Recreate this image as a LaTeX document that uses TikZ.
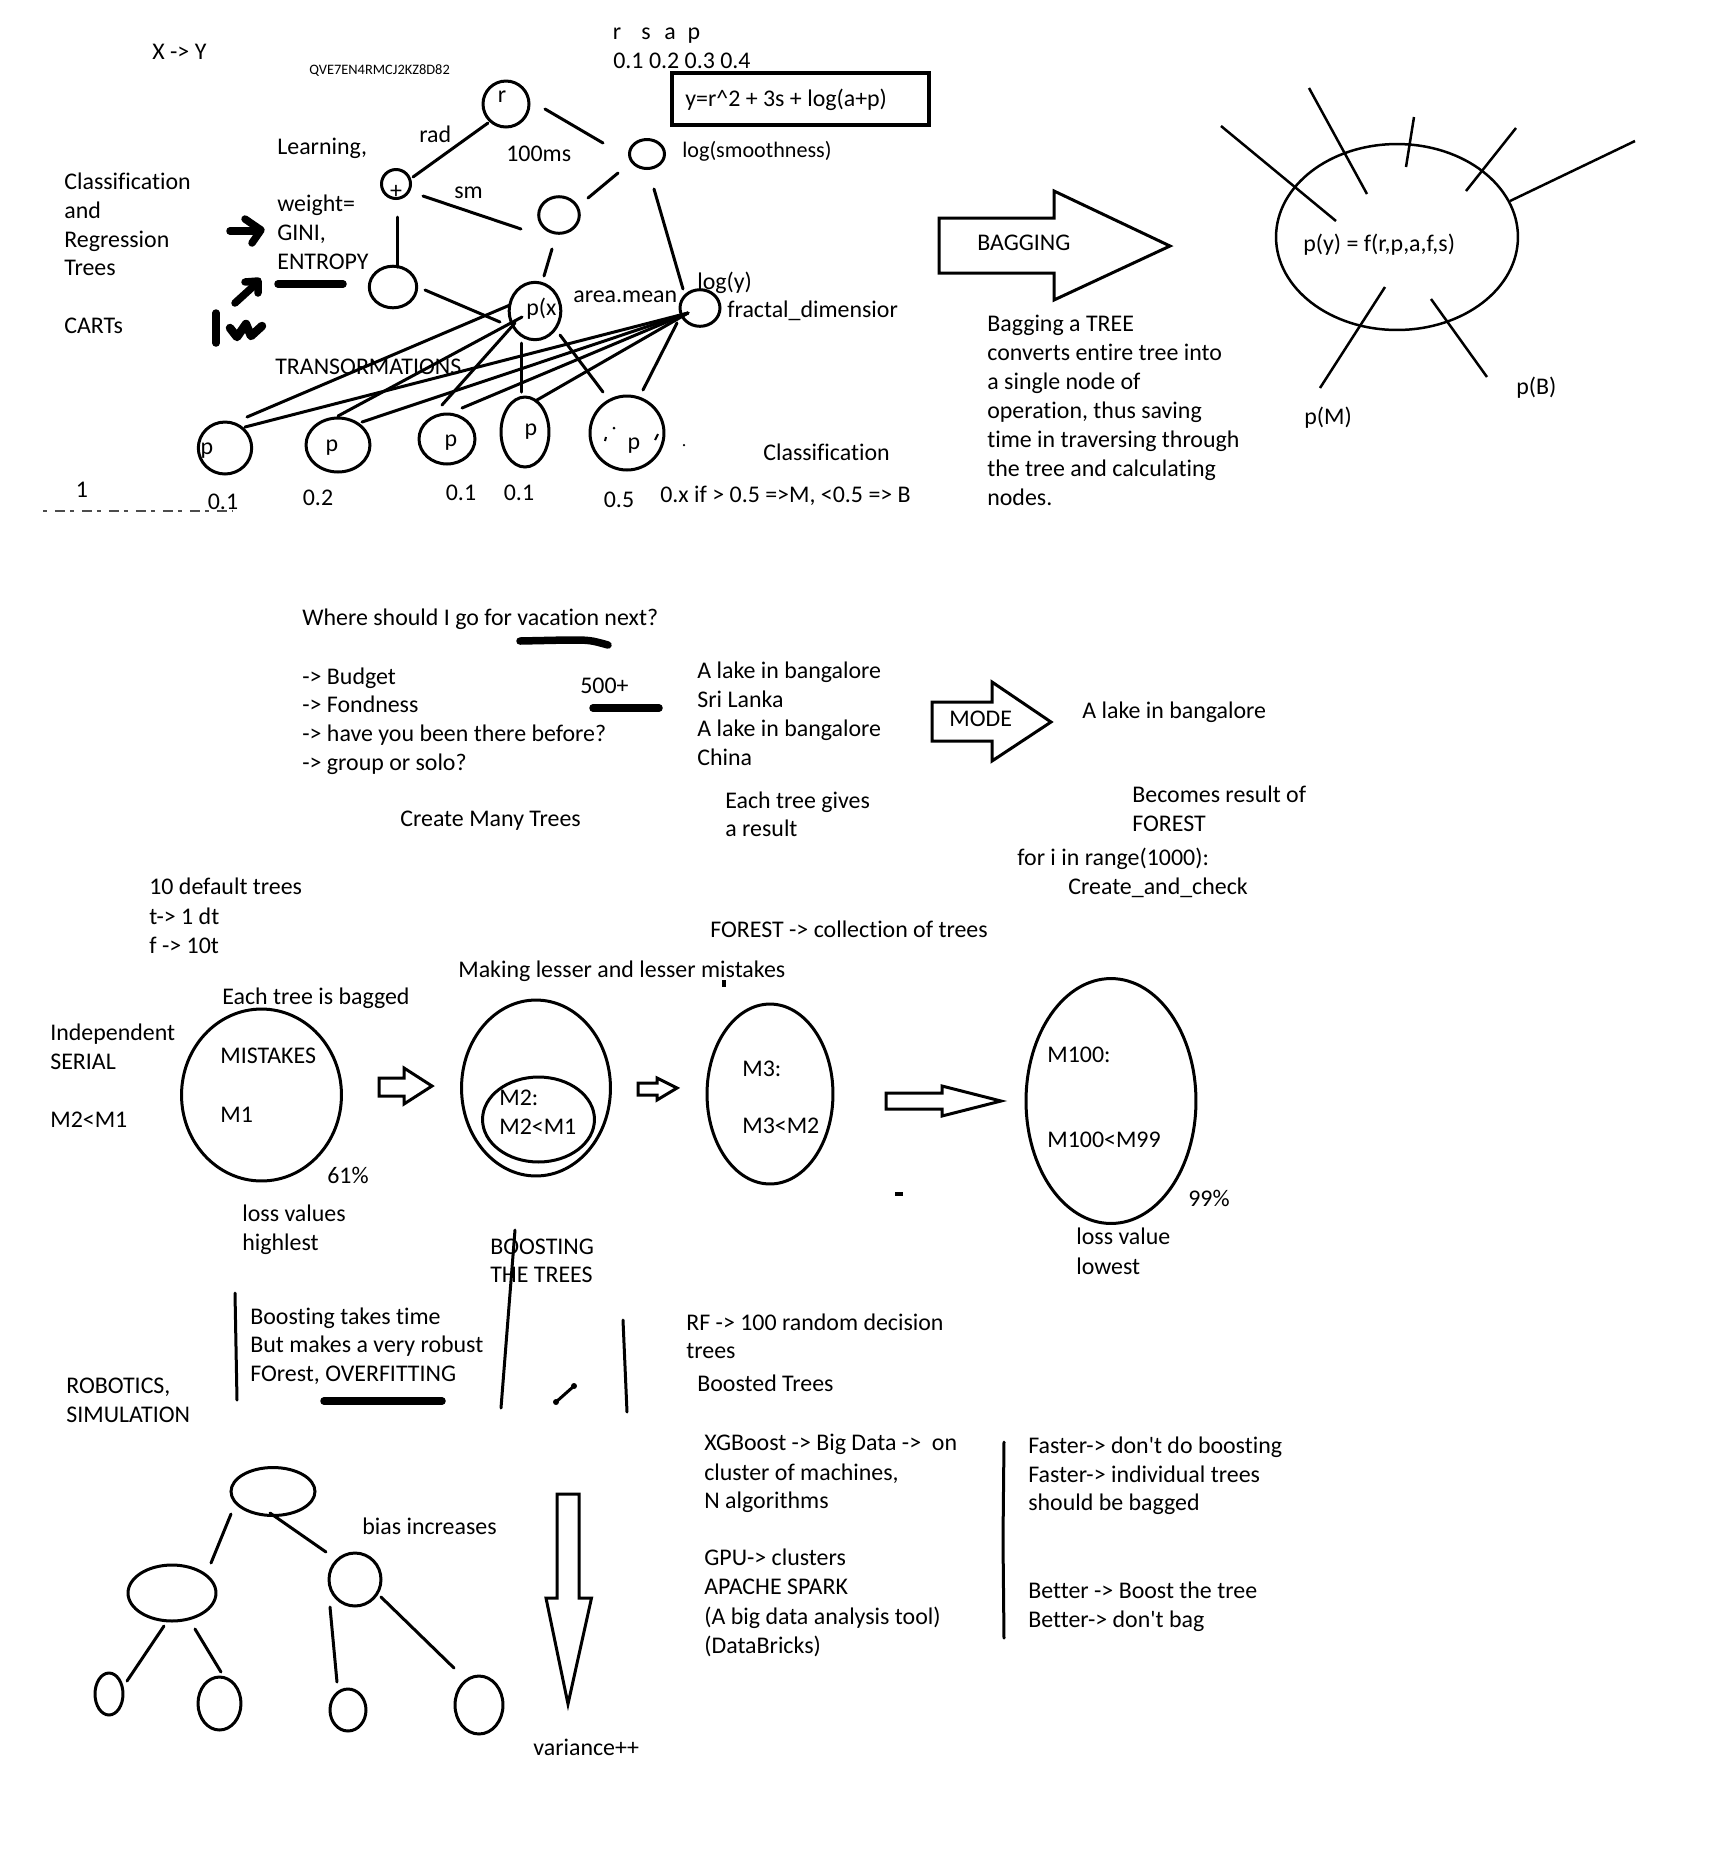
\documentclass[tikz,border=0pt]{standalone}
\usepackage{fontspec}
\setmainfont[Ligatures=NoCommon]{Carlito}
\usetikzlibrary{shapes.geometric,calc}
\newcommand\myfs{\fontsize{13.6pt}{16.5pt}\selectfont}
\newcommand\mysmall{\fontsize{8.2pt}{10pt}\selectfont}
\begin{document}
\begin{tikzpicture}[x=0.02cm, y=-0.02cm,
  txt/.style={font=\myfs, inner sep=0pt, anchor=base west, yshift=-0.15cm},
  ctxt/.style={font=\myfs, inner sep=0pt, anchor=base, yshift=-0.15cm},
  lbl/.style={font=\myfs, inner sep=0pt, anchor=base},
  txts/.style={font=\mysmall, inner sep=0pt, anchor=base west, yshift=-0.1cm},
  ln/.style={line width=0.06cm, line cap=round},
  thk/.style={line width=0.15cm, line cap=round, line join=round},
  ell/.style 2 args={draw, ellipse, line width=0.06cm, inner sep=0pt, minimum width=#1*0.04cm, minimum height=#2*0.04cm},
]
\path[use as bounding box, fill=white] (0,0) rectangle (1712,1854);

% ================= TOP LEFT TREE =================
\node[txt] (tXY) at (152,52) {X -> Y};
\node[txts] (tQ) at (309,69) {QVE7EN4RMCJ2KZ8D82};
\node[lbl] (lr) at (617,39) {r};
\node[lbl] (ls) at (646,39) {s};
\node[lbl] (la) at (670,39) {a};
\node[lbl] (lp) at (694,39) {p};
\node[txt] (tnum) at (613,61) {0.1 0.2 0.3 0.4};
\node[draw, line width=0.07cm, minimum width=257*0.02cm, minimum height=52*0.02cm, inner sep=0pt, anchor=north west] (box) at (670,71) {};
\node[txt] (tbox) at (685,99) {y=r\textasciicircum 2 + 3s + log(a+p)};

\node[txt] (tlearn) at (277,147) {Learning,};
\node[txt] (trad) at (419,135) {rad};
\node[txt] (t100) at (506,154) {100ms};
\node[txt, font=\fontsize{12.6pt}{15pt}\selectfont] (tlogs) at (682,150) {log(smoothness)};
\node[txt] (tsm) at (454,191) {sm};
\node[txt] (tc1) at (64,182) {Classification};
\node[txt] (tc2) at (64,211) {and};
\node[txt] (tc3) at (64,240) {Regression};
\node[txt] (tc4) at (64,268) {Trees};
\node[txt] (tc5) at (64,326) {CARTs};
\node[txt] (tw1) at (277,204) {weight=};
\node[txt] (tw2) at (277,233) {GINI,};
\node[txt] (tw3) at (277,262) {ENTROPY};
\node[txt] (ttr) at (275,367) {TRANSORMATIONS};
\node[txt] (tarea) at (573,295) {area.mean};
\node[txt] (tlogy) at (697,282) {log(y)};
\node[txt] (tfrac) at (727,310) {fractal\_dimensior};
\node[txt] (tpx) at (526,308) {p(x};
\node[txt] (tcls) at (763,453) {Classification};
\node[txt] (tox) at (660,495) {0.x if > 0.5 =>M, <0.5 => B};

% circles
\node[ell={23}{23}] (r) at (506,104) {};
\node[lbl] (rl) at (502,102) {r};
\node[ell={14.5}{14.5}] (plus) at (396,184) {};
\node[lbl] (plusl) at (396,198) {+};
\node[ell={23.7}{20.8}] (m1) at (393,287) {};
\node[ell={17.5}{14.5}] (lsm) at (647,154) {};
\node[ell={20.3}{18.3}] (mid2) at (559,215) {};
\node[ell={25.8}{28.7}] (px) at (535,311) {};
\node[ell={20}{18.3}] (ly) at (700,308) {};
\node[ell={26.7}{26}] (p1) at (225,448) {};
\node[ell={32}{27}] (p2) at (338,445) {};
\node[ell={28}{25}] (p3) at (447,439) {};
\node[ell={24}{35}] (p4) at (525,432) {};
\node[ell={37}{37}] (p5) at (627,433) {};
\node[lbl] (p1l) at (207,454) {p};
\node[lbl] (p2l) at (332,451) {p};
\node[lbl] (p3l) at (451,446) {p};
\node[lbl] (p4l) at (531,435) {p};
\node[lbl] (p5l) at (634,449) {p};
\fill (614,428) circle (0.03cm);
\draw[line width=0.04cm] (606,437) -- (605,441);
\draw[line width=0.04cm] (658,434) -- (655,440);
\fill (684,445) circle (0.025cm);

\node[ctxt] (n1) at (82,490) {1};
\node[ctxt] (n2) at (223,502) {0.1};
\node[ctxt] (n3) at (318,498) {0.2};
\node[ctxt] (n4) at (461,493) {0.1};
\node[ctxt] (n5) at (519,493) {0.1};
\node[ctxt] (n6) at (619,500) {0.5};
\draw[line width=0.03cm, black!70, dash pattern=on 0.08cm off 0.16cm on 0.2cm off 0.1cm] (43,511) -- (232,511);

% connectors
\draw[ln] ($(plus)+(17,-7)$) -- ($(r)+(-18,19)$);
\draw[ln] ($(r)+(39,5)$) -- ($(lsm)+(-44,-11)$);
\draw[ln] ($(plus)+(27,12)$) -- ($(mid2)+(-38,14)$);
\draw[ln] ($(lsm)+(-29,19)$) -- ($(mid2)+(29,-17)$);
\draw[ln] ($(lsm)+(7,35)$) -- ($(ly)+(-17,-19)$);
\draw[ln] ($(plus)+(1,33)$) -- ($(m1)+(4,-20)$);
\draw[ln] ($(m1)+(32,3)$) -- ($(px)+(-35,11)$);
\draw[ln] ($(mid2)+(-7,34)$) -- ($(px)+(9,-35)$);
\draw[ln] ($(p1)+(22,-31)$) -- ($(px)+(-25,-6)$);
\draw[ln] ($(p2)+(0,-29)$) -- ($(px)+(-13,6)$);
\draw[ln] ($(p3)+(-5,-34)$) -- ($(px)+(-20,12)$);
\draw[ln] ($(px)+(-14,32)$) -- ($(p4)+(-4,-40)$);
\draw[ln] ($(px)+(25,24)$) -- ($(p5)+(-24,-41)$);
\coordinate (fan) at ($(ly)+(-12,5)$);
\draw[ln] ($(p1)+(20,-21)$) -- (fan);
\draw[ln] ($(p2)+(24,-23)$) -- (fan);
\draw[ln] ($(p3)+(15,-31)$) -- (fan);
\draw[ln] ($(p4)+(12,-32)$) -- (fan);
\draw[ln] ($(p5)+(16,-43)$) -- ($(ly)+(-23,15)$);

% thick marker strokes
\draw[thk] (278,284) -- (343,284);
\draw[thk] (230,231) -- (258,231);
\draw[thk] (245,219) -- (261,230) -- (252,243);
\draw[thk] (235,303) -- (257,283);
\draw[thk] (245,282) -- (258,281) -- (258,293);
\draw[thk] (216,313) -- (216,343);
\draw[thk, line width=0.17cm] (230,328) -- (237,337) -- (246,324) -- (251,336) -- (262,326);

% ================= BAGGING =================
\draw[ln, line join=miter] (939,218) -- (1054,218) -- (1054,191) -- (1170,246) -- (1054,300) -- (1054,273) -- (939,273) -- cycle;
\node[txt] (tbag) at (977,243) {BAGGING};
\node[txt] (b1) at (987,324) {Bagging a TREE};
\node[txt] (b2) at (987,353) {converts entire tree into};
\node[txt] (b3) at (987,382) {a single node of};
\node[txt] (b4) at (987,411) {operation, thus saving};
\node[txt] (b5) at (987,440) {time in traversing through};
\node[txt] (b6) at (987,469) {the tree and calculating};
\node[txt] (b7) at (987,498) {nodes.};

\node[ell={121}{93}, line width=0.05cm] (E) at (1397,237) {};
\node[txt] (tpy) at (1303,244) {p(y) = f(r,p,a,f,s)};
\draw[line width=0.05cm] ($(E)+(-176,-111)$) -- ($(E)+(-61,-16)$);
\draw[line width=0.05cm] ($(E)+(-88,-149)$) -- ($(E)+(-30,-43)$);
\draw[line width=0.05cm] ($(E)+(17,-120)$) -- ($(E)+(9,-70)$);
\draw[line width=0.05cm] ($(E)+(119,-109)$) -- ($(E)+(69,-46)$);
\draw[line width=0.05cm] ($(E)+(238,-96)$) -- ($(E)+(113,-36)$);
\draw[line width=0.05cm] ($(E)+(-12,50)$) -- ($(E)+(-77,151)$);
\draw[line width=0.05cm] ($(E)+(34,62)$) -- ($(E)+(90,140)$);
\node[txt] (tpB) at (1516,387) {p(B)};
\node[txt] (tpM) at (1304,417) {p(M)};

% ================= MIDDLE =================
\node[txt] (v0) at (302,618) {Where should I go for vacation next?};
\draw[thk] (520,641) -- (567,640) .. controls (590,640) .. (608,645);
\node[txt] (v1) at (302,677) {-> Budget};
\node[txt] (v2) at (302,705) {-> Fondness};
\node[txt] (v3) at (302,734) {-> have you been there before?};
\node[txt] (v4) at (302,763) {-> group or solo?};
\node[txt] (v500) at (580,686) {500+};
\draw[thk] (593,708) -- (659,708);
\node[txt] (a1) at (697,671) {A lake in bangalore};
\node[txt] (a2) at (697,700) {Sri Lanka};
\node[txt] (a3) at (697,729) {A lake in bangalore};
\node[txt] (a4) at (697,758) {China};
\node[txt] (tcmt) at (400,819) {Create Many Trees};
\node[txt] (te1) at (725,801) {Each tree gives};
\node[txt] (te2) at (725,829) {a result};
\draw[ln, line join=miter] (932,702) -- (992,702) -- (992,682) -- (1051,722) -- (992,761) -- (992,741) -- (932,741) -- cycle;
\node[txt] (tmode) at (949,719) {MODE};
\node[txt] (tlake) at (1082,711) {A lake in bangalore};
\node[txt] (tb1) at (1132,795) {Becomes result of};
\node[txt] (tb2) at (1132,824) {FOREST};
\node[txt] (tfor) at (1017,858) {for i in range(1000):};
\node[txt] (tcac) at (1068,887) {Create\_and\_check};
\node[txt] (tforest) at (710,930) {FOREST -> collection of trees};

% ================= BOOSTING =================
\node[txt] (d1) at (149,887) {10 default trees};
\node[txt] (d2) at (149,917) {t-> 1 dt};
\node[txt] (d3) at (149,946) {f -> 10t};
\node[txt] (tmk) at (458,970) {Making lesser and lesser mistakes};
\draw[line width=0.07cm] (724,980) -- (724,987);
\node[txt] (teb) at (222,997) {Each tree is bagged};
\node[txt] (ti1) at (50,1033) {Independent};
\node[txt] (ti2) at (50,1062) {SERIAL};
\node[txt] (ti3) at (50,1120) {M2<M1};

\node[ell={80}{86}] (E1) at (261.5,1095) {};
\node[txt] (tmist) at (220,1056) {MISTAKES};
\node[txt] (tm1) at (220,1115) {M1};
\node[txt] (t61) at (327,1176) {61\%};
\node[txt] (tlv1) at (242,1214) {loss values};
\node[txt] (tlv2) at (242,1243) {highlest};
\draw[ln, line join=miter] (379,1078) -- (404,1078) -- (404,1068) -- (432,1086) -- (404,1104) -- (404,1096) -- (379,1096) -- cycle;

\node[ell={74.5}{88}] (E2) at (536,1088) {};
\node[ell={56}{42.5}] (E2i) at (538.5,1119.5) {};
\node[txt] (tm2a) at (499,1098) {M2:};
\node[txt] (tm2b) at (499,1127) {M2<M1};
\draw[ln, line join=miter] (638,1083) -- (657,1083) -- (657,1078) -- (677,1088) -- (657,1100) -- (657,1095) -- (638,1095) -- cycle;

\node[ell={63}{90}] (E3) at (770,1094) {};
\node[txt] (tm3a) at (742,1069) {M3:};
\node[txt] (tm3b) at (742,1126) {M3<M2};
\draw[ln, line join=miter] (886,1093) -- (942,1093) -- (942,1086) -- (1001,1101) -- (942,1116) -- (942,1109) -- (886,1109) -- cycle;
\draw[line width=0.07cm] (895,1194) -- (903,1194);

\node[ell={85}{122.5}] (E4) at (1111,1101) {};
\node[txt] (tm100a) at (1047,1055) {M100:};
\node[txt] (tm100b) at (1047,1140) {M100<M99};
\node[txt] (t99) at (1188,1199) {99\%};
\node[txt] (tlw1) at (1076,1237) {loss value};
\node[txt] (tlw2) at (1076,1267) {lowest};

\node[txt] (tbo1) at (490,1247) {BOOSTING};
\node[txt] (tbo2) at (490,1275) {THE TREES};
\draw[ln] (515,1230) -- (501,1408);

% ================= LOWER =================
\draw[ln] (235,1293) -- (237,1400);
\node[txt] (k1) at (250,1317) {Boosting takes time};
\node[txt] (k2) at (250,1345) {But makes a very robust};
\node[txt] (k3) at (250,1374) {FOrest, OVERFITTING};
\draw[thk] (324,1401) -- (442,1401);
\node[txt] (tro1) at (66,1386) {ROBOTICS,};
\node[txt] (tro2) at (66,1415) {SIMULATION};
\draw[ln] (623,1320) -- (627,1412);
\draw[ln] (556,1402) -- (574,1386);
\fill (556,1402) circle (0.06cm);
\fill (574,1386) circle (0.06cm);

\node[txt] (rf1) at (686,1323) {RF -> 100 random decision};
\node[txt] (rf2) at (686,1351) {trees};
\node[txt] (rf3) at (697,1384) {Boosted Trees};
\node[txt] (x1) at (704,1443) {XGBoost -> Big Data ->\ \ on};
\node[txt] (x2) at (704,1473) {cluster of machines,};
\node[txt] (x3) at (704,1501) {N algorithms};
\node[txt] (g1) at (704,1558) {GPU-> clusters};
\node[txt] (g2) at (704,1587) {APACHE SPARK};
\node[txt] (g3) at (704,1617) {(A big data analysis tool)};
\node[txt] (g4) at (704,1646) {(DataBricks)};
\draw[ln] (1004,1442) -- (1003,1540) -- (1004,1638);
\node[txt] (f1) at (1028,1446) {Faster-> don\textquotesingle t do boosting};
\node[txt] (f2) at (1028,1475) {Faster-> individual trees};
\node[txt] (f3) at (1028,1503) {should be bagged};
\node[txt] (f4) at (1028,1591) {Better -> Boost the tree};
\node[txt] (f5) at (1028,1620) {Better-> don\textquotesingle t bag};

% small tree
\node[ell={42}{24}] (R) at (273,1491.5) {};
\node[ell={44}{28}] (TL) at (172,1593) {};
\node[ell={26}{26.5}] (TR) at (355,1579.5) {};
\node[ell={14}{21}] (L1) at (109,1694) {};
\node[ell={21.5}{26.5}] (L2) at (219.5,1703.5) {};
\node[ell={18}{21}] (L3) at (348,1710) {};
\node[ell={24}{29}] (L4) at (479,1705) {};
\draw[ln] ($(R)+(-42,22.5)$) -- ($(TL)+(39,-30)$);
\draw[ln] ($(R)+(-3,21.5)$) -- ($(TR)+(-29,-27.5)$);
\draw[ln] ($(TL)+(-8,33)$) -- ($(L1)+(18,-13)$);
\draw[ln] ($(TL)+(23,36)$) -- ($(L2)+(1.5,-31.5)$);
\draw[ln] ($(TR)+(-25,27.5)$) -- ($(L3)+(-11,-28)$);
\draw[ln] ($(TR)+(26,17.5)$) -- ($(L4)+(-25,-37)$);
\node[txt] (tbias) at (362,1527) {bias increases};

\draw[ln, line join=miter] (557,1494) -- (579,1494) -- (579,1598) -- (591.5,1598) -- (568,1704) -- (546,1598) -- (557,1598) -- cycle;
\node[txt] (tvar) at (533,1748) {variance++};
\end{tikzpicture}
\end{document}
